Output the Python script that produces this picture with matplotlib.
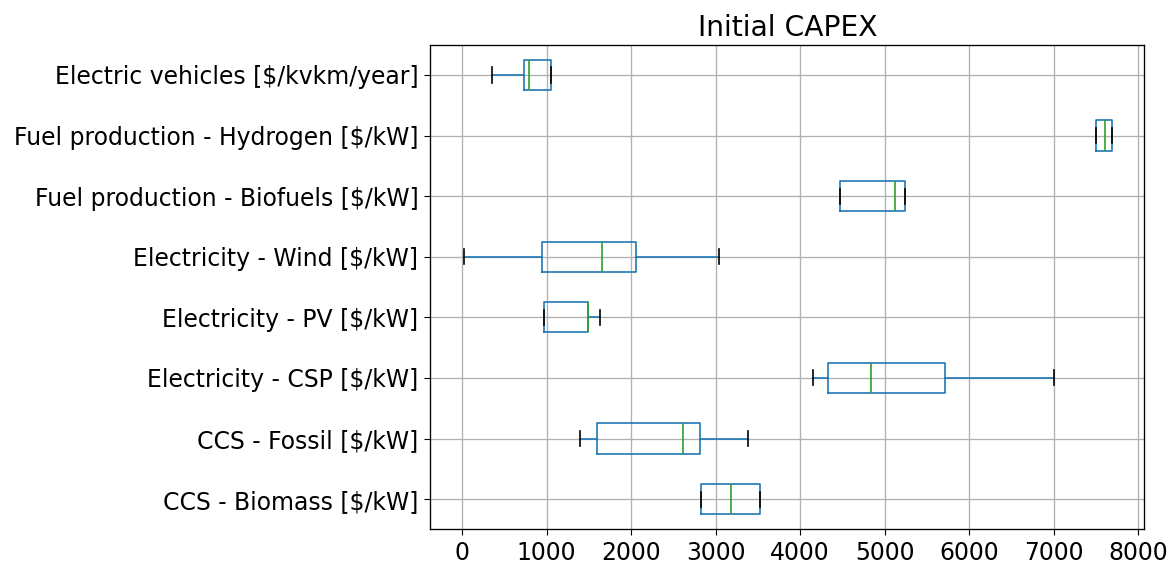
import matplotlib
matplotlib.use("Agg")
import matplotlib.pyplot as plt

s = 1.19  # reference looks rendered about this much larger than default
plt.rcParams["font.size"] = 14 * 1.21
plt.rcParams["xtick.major.size"] = 3.5 * s
plt.rcParams["ytick.major.size"] = 3.5 * s
plt.rcParams["xtick.major.pad"] = 3.5 * s
plt.rcParams["ytick.major.pad"] = 3.5 * s
plt.rcParams["grid.linewidth"] = 0.8 * s
plt.rcParams["axes.linewidth"] = 0.8 * s

# bottom to top
labels = [
    "CCS - Biomass [$/kW]",
    "CCS - Fossil [$/kW]",
    "Electricity - CSP [$/kW]",
    "Electricity - PV [$/kW]",
    "Electricity - Wind [$/kW]",
    "Fuel production - Biofuels [$/kW]",
    "Fuel production - Hydrogen [$/kW]",
    "Electric vehicles [$/kvkm/year]",
]
whislo = [2830, 1400, 4150, 970, 20, 4470, 7500, 355]
q1 = [2830, 1600, 4330, 970, 950, 4470, 7500, 730]
med = [3180, 2610, 4840, 1490, 1660, 5120, 7610, 795]
q3 = [3520, 2810, 5710, 1490, 2060, 5240, 7690, 1050]
whishi = [3520, 3380, 7000, 1630, 3040, 5240, 7690, 1050]

stats = [
    {"label": lab, "whislo": a, "q1": b, "med": c, "q3": d, "whishi": e, "fliers": []}
    for lab, a, b, c, d, e in zip(labels, whislo, q1, med, q3, whishi)
]

fig = plt.figure(figsize=(11.75, 5.65), dpi=100)
ax = fig.add_axes([0.366, 0.063, 0.608, 0.858])
lw = 1.0 * s
ax.bxp(
    stats,
    vert=False,
    widths=0.5,
    boxprops=dict(color="C0", linewidth=lw),
    whiskerprops=dict(color="C0", linewidth=lw),
    medianprops=dict(color="C2", linewidth=lw),
    capprops=dict(color="k", linewidth=lw),
)
ax.grid(True)
ax.set_axisbelow(True)
ax.set_title("Initial CAPEX", fontsize=17 * s)
ax.set_xlim(-380, 8075)
ax.set_xticks(range(0, 8001, 1000))

fig.savefig("out.png", dpi=100)
